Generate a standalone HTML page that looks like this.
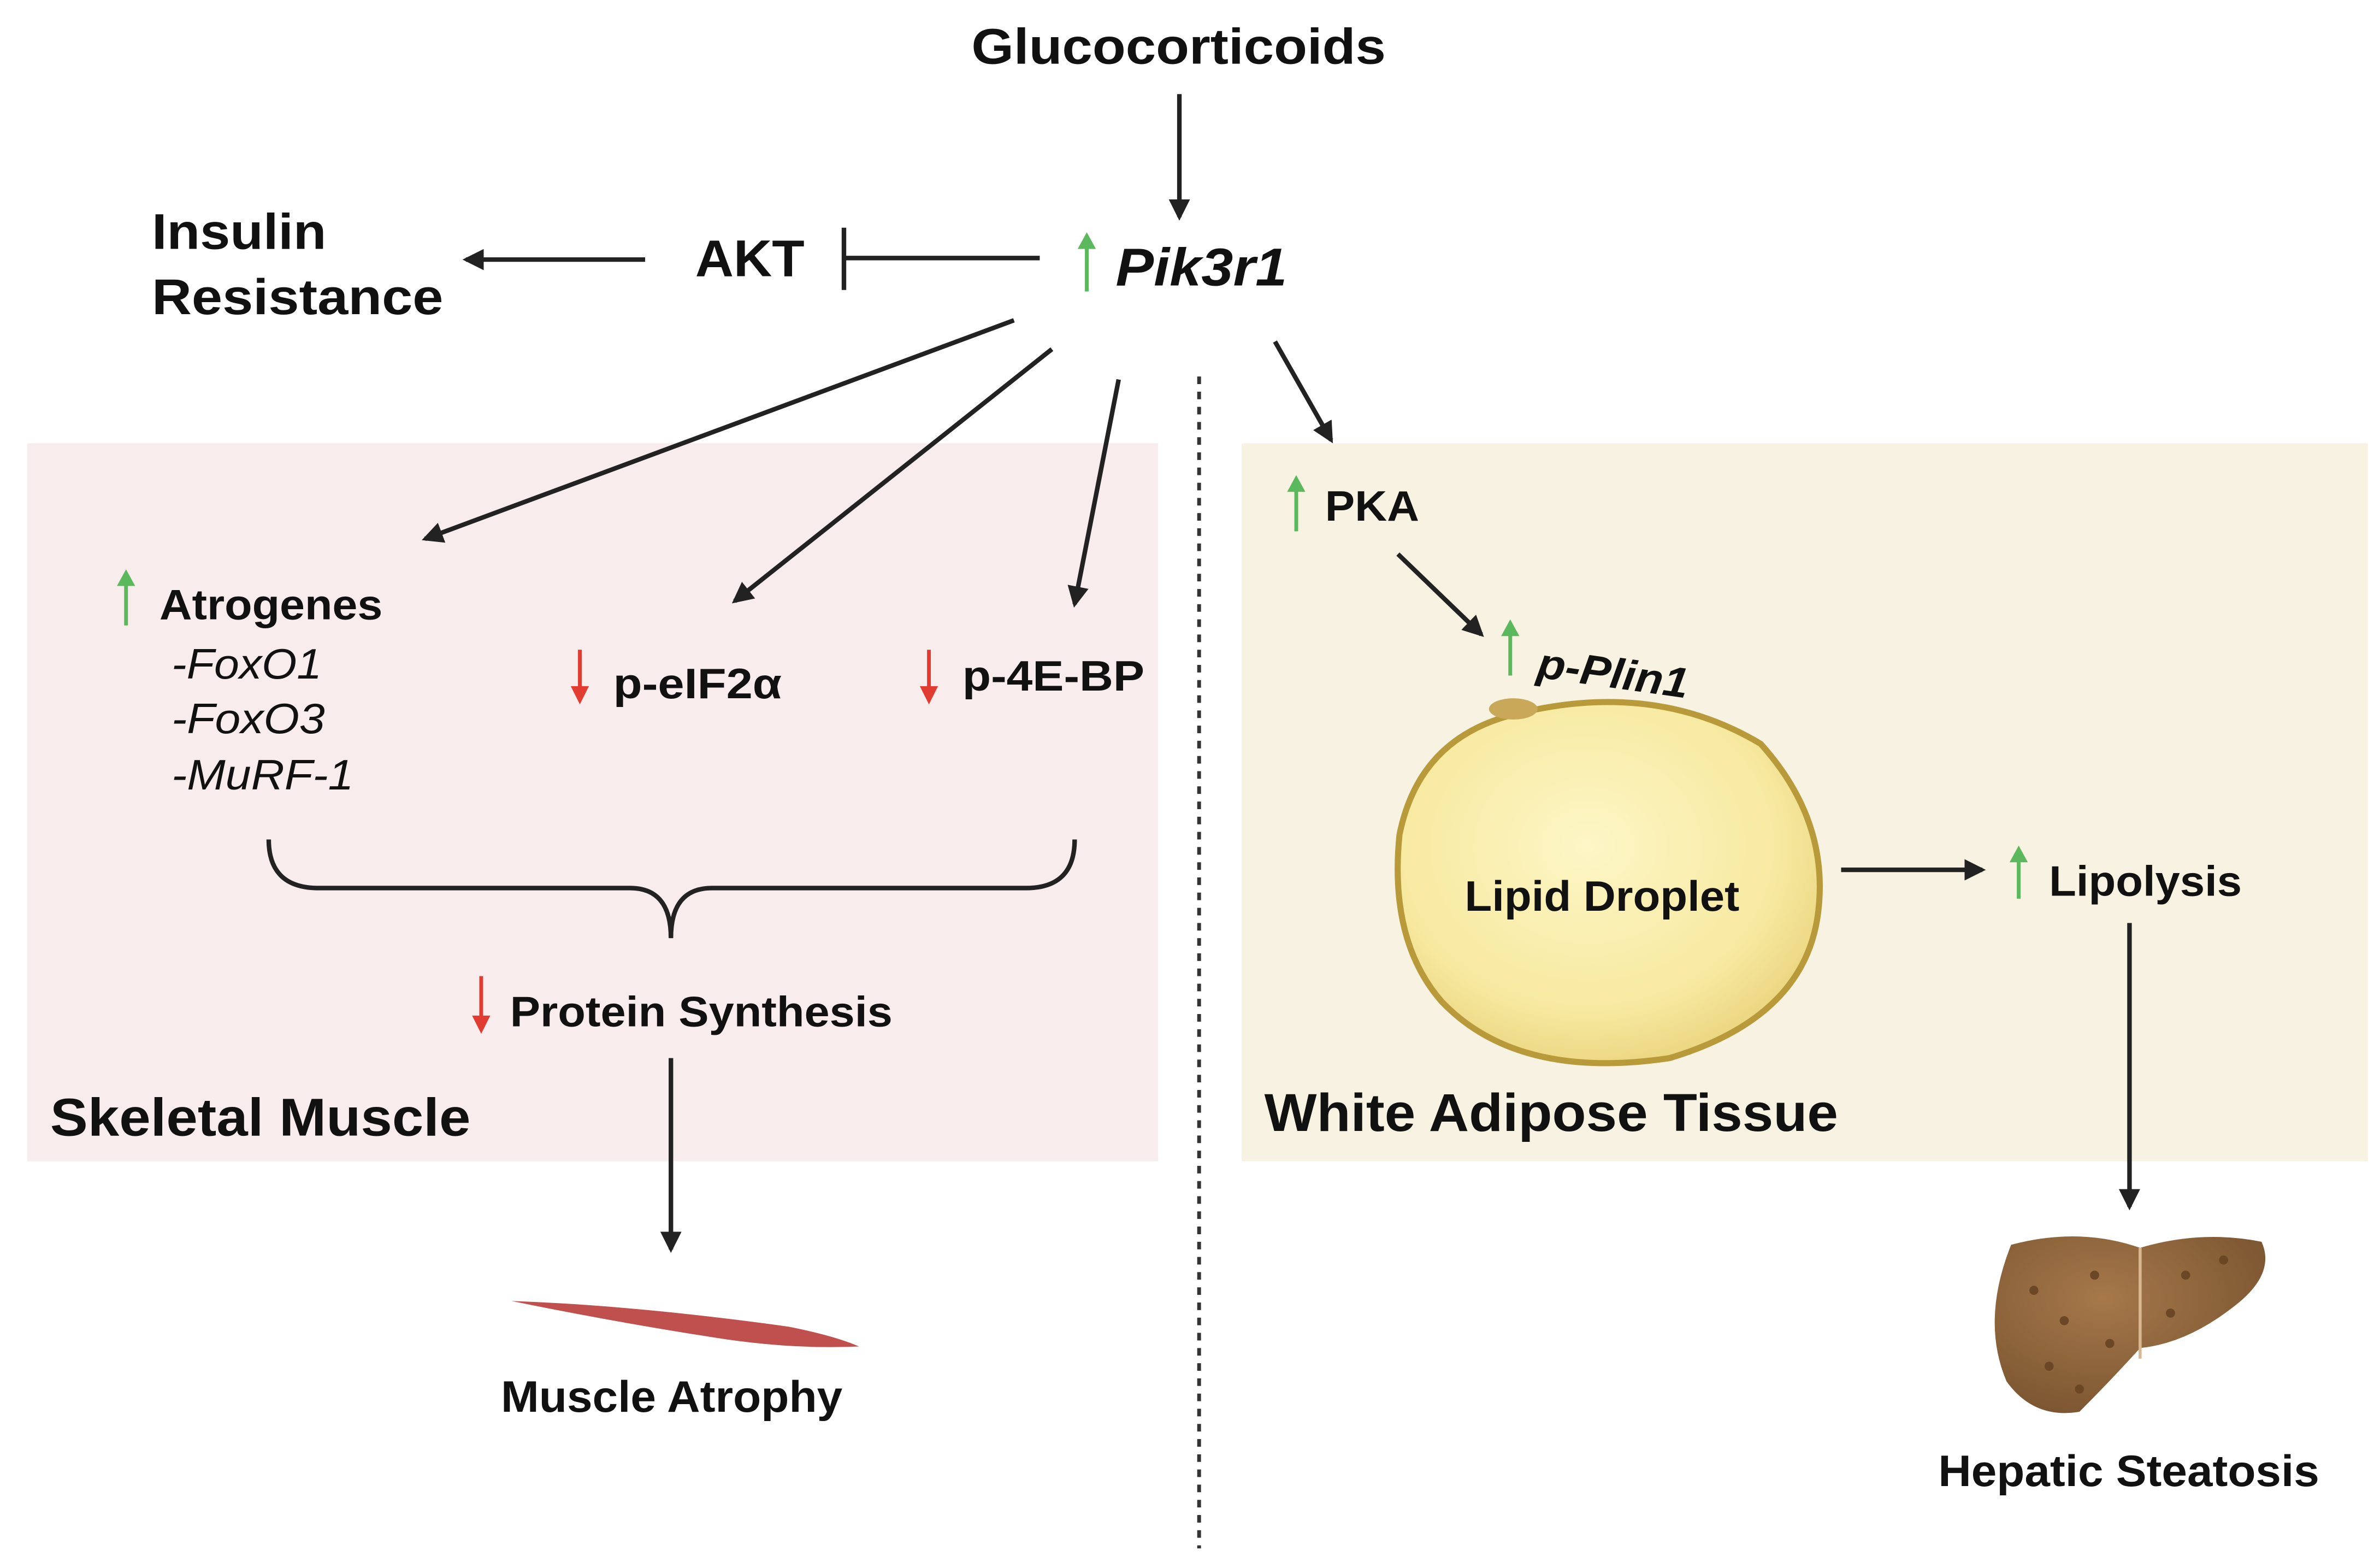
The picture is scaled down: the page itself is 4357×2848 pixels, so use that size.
<!DOCTYPE html>
<html><head><meta charset="utf-8"><style>
html,body{margin:0;padding:0;background:#fff}
svg{display:block}
text{font-family:"Liberation Sans",Arial,sans-serif;font-weight:bold;fill:#111}
text.n{font-weight:normal;font-style:italic}
</style></head><body>
<svg width="4357" height="2848" viewBox="0 0 1568 1025" xmlns="http://www.w3.org/2000/svg">
<defs>
<marker id="ah" markerWidth="14" markerHeight="14" refX="10" refY="6" orient="auto" markerUnits="userSpaceOnUse" viewBox="0 0 12 12"><path d="M0,0 L12,6 L0,12 z" fill="#222"/></marker>
<radialGradient id="lg" cx="0.45" cy="0.4" r="0.65"><stop offset="0" stop-color="#fdf6c6"/><stop offset="0.7" stop-color="#f7e9a0"/><stop offset="1" stop-color="#e9d27a"/></radialGradient>
<radialGradient id="lv" cx="0.4" cy="0.35" r="0.7"><stop offset="0" stop-color="#a6784a"/><stop offset="1" stop-color="#7a5530"/></radialGradient>
</defs>
<rect x="18" y="292" width="745" height="473" fill="#f8ecec"/>
<rect x="818" y="292" width="742" height="473" fill="#f7f2e1"/>
<line x1="790" y1="248" x2="790" y2="1020" stroke="#333" stroke-width="2.5" stroke-dasharray="5,5"/>

<text x="640" y="42" font-size="33" textLength="273" lengthAdjust="spacingAndGlyphs">Glucocorticoids</text>
<line x1="777" y1="62" x2="777" y2="143" stroke="#222" stroke-width="3" marker-end="url(#ah)"/>

<line x1="716" y1="192" x2="716" y2="162" stroke="#5cb85c" stroke-width="2.5"/><path d="M710,164 L716,153 L722,164 z" fill="#5cb85c"/>
<text x="735" y="188" font-size="35" font-style="italic" textLength="113" lengthAdjust="spacingAndGlyphs">Pik3r1</text>
<line x1="685" y1="170" x2="556" y2="170" stroke="#222" stroke-width="3"/>
<line x1="556" y1="150" x2="556" y2="191" stroke="#222" stroke-width="3"/>
<text x="458" y="182" font-size="34" textLength="72" lengthAdjust="spacingAndGlyphs">AKT</text>
<line x1="425" y1="171" x2="307" y2="171" stroke="#222" stroke-width="3" marker-end="url(#ah)"/>
<text x="100" y="164" font-size="33" textLength="115" lengthAdjust="spacingAndGlyphs">Insulin</text>
<text x="100" y="207" font-size="33" textLength="192" lengthAdjust="spacingAndGlyphs">Resistance</text>

<line x1="668" y1="211" x2="280" y2="355" stroke="#222" stroke-width="3" marker-end="url(#ah)"/>
<line x1="693" y1="230" x2="484" y2="396" stroke="#222" stroke-width="3" marker-end="url(#ah)"/>
<line x1="737" y1="250" x2="708" y2="398" stroke="#222" stroke-width="3" marker-end="url(#ah)"/>
<line x1="840" y1="225" x2="877" y2="290" stroke="#222" stroke-width="3" marker-end="url(#ah)"/>

<line x1="83" y1="412" x2="83" y2="384" stroke="#5cb85c" stroke-width="2.5"/><path d="M77,386 L83,375 L89,386 z" fill="#5cb85c"/>
<text x="105" y="408" font-size="28" textLength="147" lengthAdjust="spacingAndGlyphs">Atrogenes</text>
<text class="n" x="113" y="447" font-size="28" textLength="99" lengthAdjust="spacingAndGlyphs">-FoxO1</text>
<text class="n" x="113" y="483" font-size="28" textLength="101" lengthAdjust="spacingAndGlyphs">-FoxO3</text>
<text class="n" x="113" y="520" font-size="28" textLength="120" lengthAdjust="spacingAndGlyphs">-MuRF-1</text>

<line x1="382" y1="428" x2="382" y2="455" stroke="#e03c31" stroke-width="2.5"/><path d="M376,452 L382,464 L388,452 z" fill="#e03c31"/>
<text x="404" y="460" font-size="28" textLength="111" lengthAdjust="spacingAndGlyphs">p-eIF2α</text>
<line x1="612" y1="428" x2="612" y2="455" stroke="#e03c31" stroke-width="2.5"/><path d="M606,452 L612,464 L618,452 z" fill="#e03c31"/>
<text x="634" y="455" font-size="28" textLength="120" lengthAdjust="spacingAndGlyphs">p-4E-BP</text>

<path d="M177,553 Q177,585 210,585 L415,585 Q442,585 442,618 Q442,585 469,585 L676,585 Q708,585 708,553" fill="none" stroke="#222" stroke-width="3"/>

<line x1="317" y1="643" x2="317" y2="672" stroke="#e03c31" stroke-width="2.5"/><path d="M311,669 L317,681 L323,669 z" fill="#e03c31"/>
<text x="336" y="676" font-size="28" textLength="252" lengthAdjust="spacingAndGlyphs">Protein Synthesis</text>
<line x1="442" y1="697" x2="442" y2="823" stroke="#222" stroke-width="3" marker-end="url(#ah)"/>
<text x="33" y="748" font-size="35" textLength="277" lengthAdjust="spacingAndGlyphs">Skeletal Muscle</text>

<path d="M337,857 Q420,860 520,874 Q550,880 566,887 Q520,889 470,881 Q400,870 337,857 z" fill="#c0504d"/>
<text x="330" y="930" font-size="29" textLength="225" lengthAdjust="spacingAndGlyphs">Muscle Atrophy</text>

<line x1="854" y1="350" x2="854" y2="322" stroke="#5cb85c" stroke-width="2.5"/><path d="M848,324 L854,313 L860,324 z" fill="#5cb85c"/>
<text x="873" y="343" font-size="28" textLength="62" lengthAdjust="spacingAndGlyphs">PKA</text>
<line x1="921" y1="365" x2="976" y2="418" stroke="#222" stroke-width="3" marker-end="url(#ah)"/>
<line x1="995" y1="445" x2="995" y2="417" stroke="#5cb85c" stroke-width="2.5"/><path d="M989,419 L995,408 L1001,419 z" fill="#5cb85c"/>
<text x="1012" y="446" font-size="28" font-style="italic" transform="rotate(8 1012 446)" textLength="100" lengthAdjust="spacingAndGlyphs">p-Plin1</text>

<path d="M1000,470 Q1090,448 1160,490 Q1205,540 1198,600 Q1190,670 1100,697 Q1000,712 950,660 Q915,620 922,550 Q935,485 1000,470 z" fill="url(#lg)" stroke="#b89a3a" stroke-width="4"/>
<ellipse cx="997" cy="467" rx="16" ry="7" fill="#c9a85a"/>
<text x="965" y="600" font-size="28" textLength="181" lengthAdjust="spacingAndGlyphs">Lipid Droplet</text>
<line x1="1213" y1="573" x2="1306" y2="573" stroke="#222" stroke-width="3" marker-end="url(#ah)"/>
<line x1="1330" y1="592" x2="1330" y2="566" stroke="#5cb85c" stroke-width="2.5"/><path d="M1324,568 L1330,557 L1336,568 z" fill="#5cb85c"/>
<text x="1350" y="590" font-size="28" textLength="127" lengthAdjust="spacingAndGlyphs">Lipolysis</text>
<line x1="1403" y1="608" x2="1403" y2="795" stroke="#222" stroke-width="3" marker-end="url(#ah)"/>
<text x="833" y="745" font-size="35" textLength="378" lengthAdjust="spacingAndGlyphs">White Adipose Tissue</text>

<path d="M1325,820 Q1370,808 1410,822 Q1450,810 1490,818 Q1500,840 1470,862 Q1440,885 1410,888 Q1390,910 1370,930 Q1340,935 1322,910 Q1305,870 1325,820 z" fill="url(#lv)"/>
<line x1="1410" y1="822" x2="1410" y2="895" stroke="#d8b890" stroke-width="2"/>
<g fill="#6b4726">
<circle cx="1340" cy="850" r="3"/><circle cx="1360" cy="870" r="3"/><circle cx="1380" cy="840" r="3"/><circle cx="1350" cy="900" r="3"/><circle cx="1390" cy="885" r="3"/><circle cx="1440" cy="840" r="3"/><circle cx="1465" cy="830" r="3"/><circle cx="1430" cy="865" r="3"/><circle cx="1370" cy="915" r="3"/></g>
<text x="1277" y="979" font-size="29" textLength="251" lengthAdjust="spacingAndGlyphs">Hepatic Steatosis</text>
</svg>
</body></html>
